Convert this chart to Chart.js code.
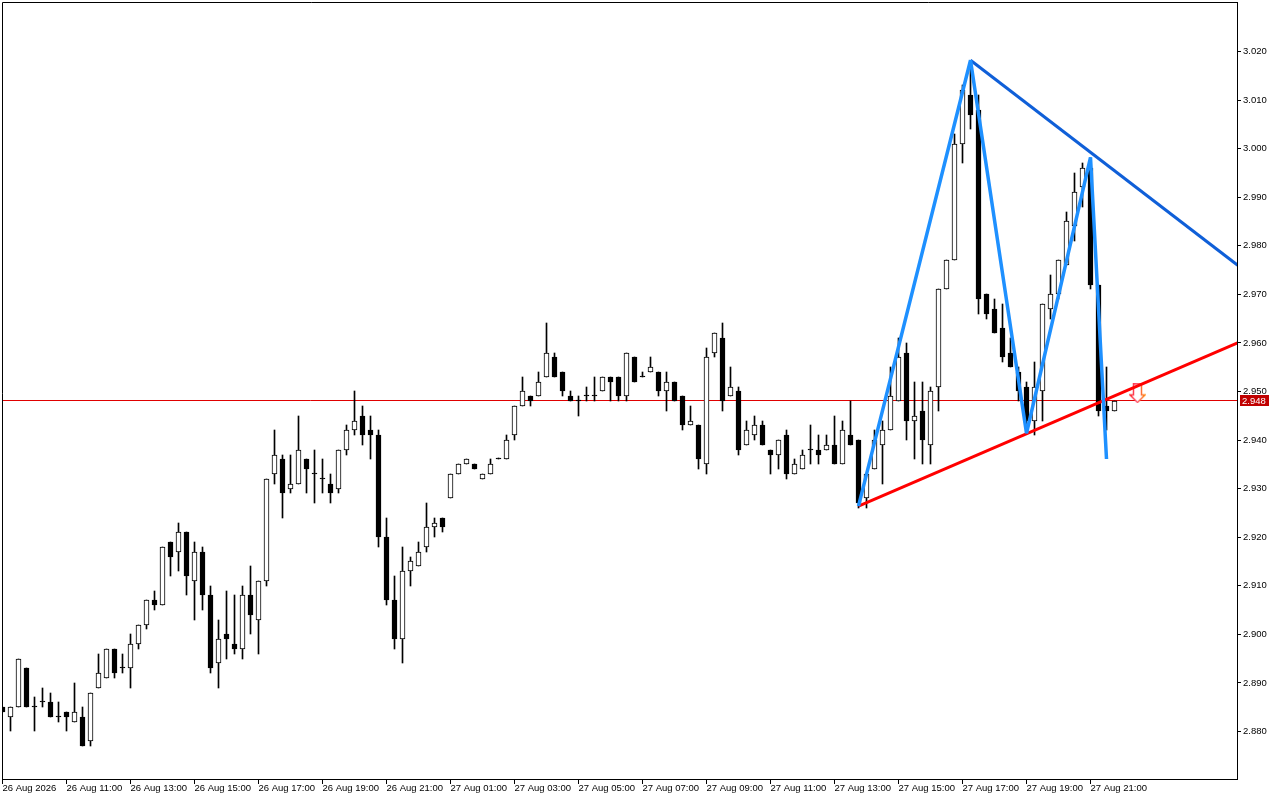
<!DOCTYPE html>
<html>
<head>
<meta charset="utf-8">
<style>
  html, body { margin: 0; padding: 0; background: #fff; }
  #wrap { position: relative; width: 1280px; height: 800px; }
</style>
<script src="https://cdn.jsdelivr.net/npm/chart.js@4"></script>
</head>
<body>
<div id="wrap"><canvas id="chart" width="1280" height="800"></canvas></div>
<script>
// 15 minute bars, index = bar number
const opens = [2.885,2.883,2.885,2.893,2.885,2.886,2.886,2.883,2.884,2.882,2.883,2.878,2.889,2.891,2.897,2.893,2.893,2.898,2.902,2.907,
  2.906,2.919,2.917,2.921,2.911,2.917,2.908,2.894,2.900,2.898,2.897,2.908,2.903,2.911,2.933,2.936,2.930,2.931,2.936,2.933,
  2.932,2.931,2.930,2.938,2.942,2.945,2.942,2.941,2.920,2.907,2.899,2.913,2.914,2.918,2.922,2.924,2.928,2.933,2.935,2.935,
  2.932,2.933,2.936,2.936,2.941,2.947,2.949,2.949,2.953,2.957,2.954,2.949,2.948,2.949,2.949,2.950,2.953,2.953,2.949,2.957,
  2.953,2.954,2.954,2.950,2.952,2.949,2.943,2.943,2.935,2.958,2.961,2.949,2.950,2.939,2.941,2.943,2.938,2.937,2.941,2.933,
  2.934,2.938,2.938,2.938,2.939,2.935,2.941,2.940,2.928,2.934,2.939,2.942,2.948,2.958,2.944,2.946,2.939,2.951,2.971,2.977,
  3.001,3.011,3.008,2.970,2.967,2.963,2.958,2.954,2.951,2.944,2.950,2.967,2.970,2.976,2.984,2.992,2.996,2.972,2.947,2.946];
const closes = [2.884,2.885,2.895,2.885,2.885,2.886,2.883,2.883,2.883,2.884,2.877,2.888,2.892,2.897,2.892,2.893,2.898,2.902,2.907,2.906,
  2.918,2.916,2.921,2.912,2.917,2.908,2.893,2.899,2.899,2.897,2.908,2.904,2.911,2.932,2.937,2.929,2.931,2.938,2.934,2.933,
  2.932,2.929,2.938,2.942,2.944,2.941,2.941,2.920,2.907,2.899,2.913,2.915,2.917,2.922,2.923,2.922,2.933,2.935,2.936,2.934,
  2.933,2.935,2.936,2.940,2.947,2.950,2.948,2.952,2.958,2.953,2.950,2.948,2.948,2.949,2.949,2.953,2.952,2.949,2.958,2.952,
  2.953,2.955,2.950,2.952,2.948,2.943,2.944,2.936,2.957,2.962,2.948,2.951,2.938,2.942,2.943,2.939,2.937,2.940,2.933,2.935,
  2.937,2.938,2.937,2.939,2.935,2.942,2.939,2.927,2.933,2.940,2.942,2.949,2.957,2.944,2.945,2.940,2.950,2.971,2.977,3.001,
  3.012,3.007,2.969,2.966,2.962,2.957,2.955,2.950,2.944,2.951,2.968,2.970,2.977,2.985,2.991,2.996,2.972,2.946,2.946,2.948];
const highs = [2.885,2.885,2.895,2.893,2.887,2.889,2.888,2.886,2.884,2.890,2.885,2.888,2.896,2.897,2.897,2.896,2.900,2.902,2.907,2.909,
  2.918,2.919,2.923,2.921,2.919,2.918,2.910,2.903,2.909,2.908,2.910,2.914,2.911,2.932,2.942,2.937,2.937,2.945,2.936,2.938,
  2.936,2.933,2.938,2.943,2.950,2.947,2.945,2.942,2.924,2.912,2.918,2.916,2.919,2.927,2.924,2.924,2.933,2.935,2.936,2.935,
  2.933,2.936,2.936,2.941,2.947,2.953,2.949,2.954,2.964,2.958,2.954,2.950,2.949,2.951,2.953,2.953,2.953,2.953,2.958,2.957,
  2.954,2.957,2.954,2.954,2.952,2.949,2.947,2.943,2.959,2.962,2.964,2.955,2.951,2.944,2.945,2.944,2.938,2.940,2.942,2.936,
  2.938,2.943,2.941,2.941,2.945,2.944,2.948,2.940,2.933,2.942,2.944,2.955,2.961,2.960,2.952,2.952,2.951,2.971,2.977,3.003,
  3.013,3.018,3.011,2.970,2.969,2.968,2.961,2.955,2.952,2.956,2.968,2.974,2.977,2.987,2.995,2.997,2.998,2.972,2.955,2.948];
const lows = [2.884,2.880,2.885,2.885,2.880,2.885,2.883,2.882,2.880,2.882,2.877,2.877,2.889,2.891,2.891,2.892,2.889,2.897,2.901,2.905,
  2.906,2.912,2.913,2.908,2.903,2.905,2.892,2.889,2.895,2.896,2.895,2.900,2.896,2.910,2.931,2.924,2.929,2.931,2.929,2.927,
  2.929,2.927,2.929,2.937,2.941,2.939,2.936,2.918,2.906,2.897,2.894,2.910,2.914,2.917,2.920,2.921,2.928,2.933,2.935,2.934,
  2.932,2.933,2.936,2.936,2.940,2.947,2.947,2.949,2.953,2.953,2.949,2.948,2.945,2.948,2.948,2.950,2.948,2.948,2.948,2.952,
  2.953,2.954,2.949,2.946,2.948,2.942,2.943,2.934,2.933,2.957,2.946,2.949,2.937,2.939,2.940,2.939,2.933,2.934,2.932,2.933,
  2.934,2.935,2.935,2.938,2.935,2.935,2.939,2.926,2.926,2.934,2.931,2.942,2.948,2.940,2.936,2.935,2.935,2.946,2.971,2.977,
  2.997,3.004,2.966,2.965,2.962,2.956,2.955,2.948,2.942,2.941,2.944,2.965,2.969,2.976,2.981,2.988,2.971,2.945,2.942,2.946];

// x axis
const tickBars = [0,8,16,24,32,40,48,56,64,72,80,88,96,104,112,120,128,136];
const tickLabels = ['26 Aug 2026','26 Aug 11:00','26 Aug 13:00','26 Aug 15:00','26 Aug 17:00','26 Aug 19:00','26 Aug 21:00',
  '27 Aug 01:00','27 Aug 03:00','27 Aug 05:00','27 Aug 07:00','27 Aug 09:00','27 Aug 11:00','27 Aug 13:00','27 Aug 15:00',
  '27 Aug 17:00','27 Aug 19:00','27 Aug 21:00'];

// drawn objects
const zigzagBars = [107,121,128,136,138];
const zigzagPrices = [2.9264,3.0182,2.9414,2.9982,2.9361];
const upperBars = [121,154.4];
const upperPrices = [3.0182,2.976];
const lowerBars = [107,154.4];
const lowerPrices = [2.9264,2.960];
const lastPrice = 2.94814;
const arrowBar = 141.875;
const arrowPrice = 2.9496;

const xMin = -0.0625, xMax = 154.3125;
const yMax = 3.03019, yMin = 2.87021;
const font = { family: 'Liberation Sans', size: 9.5 };

const pts = (xs, ys) => xs.map((x, i) => ({ x: x, y: ys[i] }));
const isUp = i => closes[i] > opens[i];

// arrow marker as a little canvas
const arrow = document.createElement('canvas');
arrow.width = 17; arrow.height = 20;
(function () {
  const c = arrow.getContext('2d');
  c.fillStyle = '#fff';
  c.beginPath();
  c.moveTo(4.5, 0.75); c.lineTo(12.5, 0.75); c.lineTo(12.5, 11.5); c.lineTo(16, 11.5);
  c.lineTo(8.5, 19); c.lineTo(1, 11.5); c.lineTo(4.5, 11.5); c.closePath();
  c.fill();
  const g = c.createLinearGradient(0, 0, 17, 0);
  g.addColorStop(0, '#ff2020');
  g.addColorStop(0.45, '#ff5070');
  g.addColorStop(1, '#ff8c00');
  c.strokeStyle = g;
  c.lineWidth = 1.5;
  c.stroke();
})();

const bodyColor = ctx => isUp(ctx.dataIndex) ? '#ffffff' : '#000000';

// keeps bars on whole pixels like the terminal does
const snapBars = {
  id: 'snapBars',
  afterDatasetsUpdate(chart) {
    chart.data.datasets.forEach((ds, n) => {
      if (ds.type !== 'bar') return;
      chart.getDatasetMeta(n).data.forEach(el => {
        el.y = Math.round(el.y);
        el.base = Math.round(el.base);
        if (el.y === el.base) el.base = el.y + 1;
        el.height = el.base - el.y;
      });
    });
  }
};

// frame on the left and top, and the last price tag
const frame = {
  id: 'frame',
  afterDraw(chart) {
    const { ctx, chartArea: a, scales } = chart;
    ctx.save();
    ctx.strokeStyle = '#000';
    ctx.lineWidth = 1;
    ctx.beginPath();
    ctx.moveTo(a.left + 0.5, a.bottom + 5);
    ctx.lineTo(a.left + 0.5, a.top + 0.5);
    ctx.lineTo(a.right + 0.5, a.top + 0.5);
    ctx.stroke();
    const y = Math.round(scales.y.getPixelForValue(lastPrice));
    ctx.fillStyle = '#c00000';
    ctx.fillRect(a.right + 3, y - 6, 29, 11);
    ctx.fillStyle = '#fff';
    ctx.font = font.size + 'px "' + font.family + '"';
    ctx.textBaseline = 'middle';
    ctx.fillText(lastPrice.toFixed(3), a.right + 5, y);
    ctx.restore();
  }
};

new Chart(document.getElementById('chart'), {
  type: 'bar',
  data: {
    datasets: [
      {
        type: 'line',
        data: pts([xMin, xMax], [lastPrice, lastPrice]),
        borderColor: '#e00000',
        borderWidth: 1,
        pointRadius: 0,
        order: 10
      },
      {
        type: 'bar',
        data: opens.map((o, i) => ({ x: i, y: [lows[i], highs[i]] })),
        backgroundColor: '#000',
        barThickness: 1,
        minBarLength: 1,
        grouped: false,
        order: 9
      },
      {
        type: 'bar',
        data: opens.map((o, i) => ({ x: i, y: [o, closes[i]] })),
        backgroundColor: bodyColor,
        borderColor: '#000',
        borderWidth: 1,
        borderSkipped: false,
        barThickness: 5,
        minBarLength: 1,
        grouped: false,
        order: 8
      },
      {
        type: 'scatter',
        data: [{ x: arrowBar, y: arrowPrice }],
        pointStyle: arrow,
        order: 7
      },
      {
        type: 'line',
        data: pts(upperBars, upperPrices),
        borderColor: '#0f5fd8',
        borderWidth: 3,
        pointRadius: 0,
        order: 4
      },
      {
        type: 'line',
        data: pts(lowerBars, lowerPrices),
        borderColor: '#ff0000',
        borderWidth: 3,
        pointRadius: 0,
        order: 3
      },
      {
        type: 'line',
        data: pts(zigzagBars, zigzagPrices),
        borderColor: '#1e90ff',
        borderWidth: 3.5,
        borderJoinStyle: 'bevel',
        pointRadius: 0,
        order: 2
      }
    ]
  },
  options: {
    responsive: false,
    animation: false,
    events: [],
    layout: { autoPadding: false, padding: { left: 2, top: 2 } },
    plugins: { legend: { display: false }, tooltip: { enabled: false } },
    scales: {
      x: {
        type: 'linear',
        min: xMin,
        max: xMax,
        offset: false,
        afterFit(s) { s.height = 21; },
        afterBuildTicks(s) { s.ticks = tickBars.map(v => ({ value: v })); },
        grid: { display: true, offset: false, drawOnChartArea: false, drawTicks: true, tickLength: 5, color: '#000' },
        border: { display: true, color: '#000' },
        ticks: {
          autoSkip: false,
          maxRotation: 0,
          align: 'start',
          padding: -1,
          color: '#000',
          font: font,
          callback: (v) => tickLabels[tickBars.indexOf(v)]
        }
      },
      y: {
        position: 'right',
        min: yMin,
        max: yMax,
        afterFit(s) {
          s.width = 43;
          s.paddingTop = 0;
          s.paddingBottom = 0;
          if (s._margins) s._margins.top = 0;
        },
        afterBuildTicks(s) {
          const t = [];
          for (let k = 288; k <= 302; k++) t.push({ value: k / 100 });
          s.ticks = t;
        },
        grid: { display: true, drawOnChartArea: false, drawTicks: true, tickLength: 4, color: '#000' },
        border: { display: true, color: '#000' },
        ticks: {
          autoSkip: false,
          padding: 2,
          color: '#000',
          font: font,
          callback: v => v.toFixed(3)
        }
      }
    }
  },
  plugins: [snapBars, frame]
});
</script>
</body>
</html>
